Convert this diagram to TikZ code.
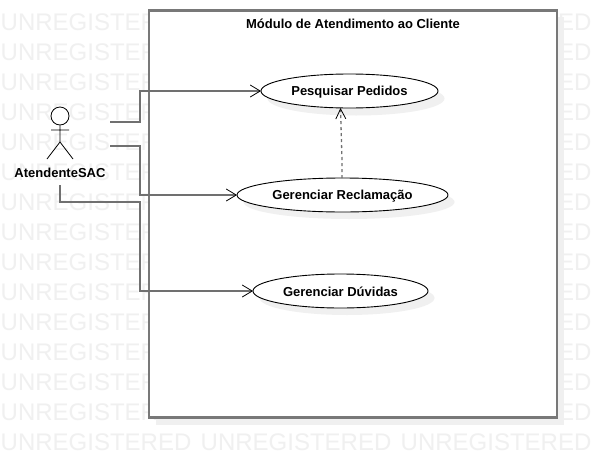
\documentclass[tikz,border=0pt]{standalone}
\usepackage{fontspec}
\setmainfont{Liberation Sans}
\usetikzlibrary{arrows.meta}
\definecolor{wmark}{HTML}{F0F0F0}
\definecolor{shadowgray}{HTML}{F0F0F0}
\definecolor{linegray}{HTML}{707070}
\definecolor{framegray}{HTML}{787878}
\tikzset{
  x=1pt,y=-1pt,
  watermark/.style={anchor=west,inner sep=0pt,text=wmark,font=\fontsize{24}{24}\selectfont},
  usecase/.style={draw=black,line width=0.9pt,fill=white},
  shadowshape/.style={fill=shadowgray,draw=none},
  label/.style={inner sep=0pt,font=\fontsize{13}{15}\bfseries\selectfont,text=black},
  assoc/.style={draw=linegray,line width=1.3pt,-{Straight Barb[length=10pt,width=12pt,line width=0.8pt,color=black]}},
  dep/.style={draw=linegray,line width=1.3pt,dash pattern=on 3pt off 3pt,-{Straight Barb[length=10pt,width=10pt,line width=0.8pt,color=black]}},
  stick/.style={draw=black,line width=0.8pt},
}
\begin{document}
\begin{tikzpicture}
\useasboundingbox (0,0) rectangle (597,458);
\fill[white] (0,0) rectangle (597,458);
% watermark
\foreach \r in {0,...,14}{
  \foreach \c in {0,1,2}{
    \node[watermark] (wm\r-\c) at ({0.5+200*\c},{22+30*\r}) {UNREGISTERED};
  }
}
% frame
\fill[shadowgray] (156,17) rectangle (564,424.5);
\draw[draw=framegray,line width=2.2pt,fill=white] (149,10.5) rectangle (557,417.5);
\node[label] (title) at (353,23.5) {Módulo de Atendimento ao Cliente};
% shadows
\fill[shadowshape] (356,98.5) ellipse [x radius=88.5,y radius=17];
\fill[shadowshape] (349,202) ellipse [x radius=105.5,y radius=17];
\fill[shadowshape] (347,298) ellipse [x radius=87.5,y radius=17];
% use cases
\draw[usecase] (349.5,91) ellipse [x radius=88.5,y radius=17];
\draw[usecase] (342.5,195) ellipse [x radius=105.5,y radius=17];
\draw[usecase] (340.5,291) ellipse [x radius=87.5,y radius=17];
\node[label] (pesq) at (349.5,92) {Pesquisar Pedidos};
\node[label] (recl) at (342.5,196) {Gerenciar Reclamação};
\node[label] (duv) at (340.5,292) {Gerenciar Dúvidas};
% actor
\node[circle,draw=black,line width=0.8pt,fill=white,minimum size=18pt,inner sep=0pt] (head) at (60,116) {};
\coordinate (hip) at (60,142);
\coordinate (armL) at (51,130);
\coordinate (armR) at (69,130);
\coordinate (legL) at (47,159);
\coordinate (legR) at (73,159);
\draw[stick] (head.south) -- (hip) (armL) -- (armR) (legL) -- (hip) -- (legR);
\node[label] (actor) at (60,173) {AtendenteSAC};
% connector end points
\coordinate (a1) at (110,122);
\coordinate (a2) at (110,146);
\coordinate (a3) at (60,185);
\coordinate (pW) at (261,91);
\coordinate (rW) at (237,195);
\coordinate (dW) at (253,291);
\coordinate (rN) at (342,178);
\coordinate (pS) at (340.5,108);
% connectors
\draw[assoc] (a1) -- (140,122) -- (140,91) -- (pW);
\draw[assoc] (a2) -- (140,146) -- (140,195) -- (rW);
\draw[assoc] (a3) -- (60,202) -- (140,202) -- (140,291) -- (dW);
\draw[dep] (rN) -- (342,160) -- (pS);
\end{tikzpicture}
\end{document}
